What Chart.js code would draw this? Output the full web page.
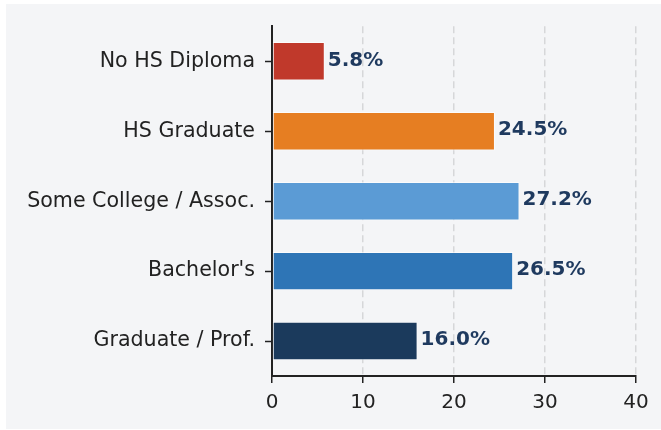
<!DOCTYPE html>
<html>
<head>
<meta charset="utf-8">
<script src="https://cdn.jsdelivr.net/npm/chart.js@4.4.1/dist/chart.umd.min.js"></script>
<style>
  html, body { margin: 0; padding: 0; background: #ffffff; }
  #wrap { position: absolute; left: 6px; top: 4px; width: 655px; height: 425px; background: #f4f5f7; }
  canvas { display: block; }
</style>
</head>
<body>
<div id="wrap"><canvas id="chart" width="655" height="425"></canvas></div>
<script>
const categories = ['No HS Diploma', 'HS Graduate', 'Some College / Assoc.', "Bachelor's", 'Graduate / Prof.'];
const shares = [5.8, 24.5, 27.2, 26.5, 16.0];
const barColors = ['#c0392b', '#e67e22', '#5b9bd5', '#2e75b6', '#1b3a5c'];
const xTicks = [0, 10, 20, 30, 40];

const FONT = "'DejaVu Sans', sans-serif";
const INK = '#222222';

// value labels at the end of each bar
const valueLabels = {
  id: 'valueLabels',
  afterDatasetsDraw(chart) {
    const ctx = chart.ctx;
    const meta = chart.getDatasetMeta(0);
    ctx.save();
    ctx.font = 'bold 20px ' + FONT;
    ctx.fillStyle = '#1f3a5f';
    ctx.textAlign = 'left';
    ctx.textBaseline = 'middle';
    meta.data.forEach((bar, i) => {
      ctx.fillText(shares[i].toFixed(1) + '%', bar.x + 3, bar.y - 1);
    });
    ctx.restore();
  }
};

new Chart(document.getElementById('chart'), {
  type: 'bar',
  data: {
    labels: categories,
    datasets: [{
      data: shares,
      backgroundColor: barColors,
      borderColor: 'rgba(255,255,255,0.6)',
      borderWidth: 1,
      borderSkipped: false,
      barPercentage: 0.55,
      categoryPercentage: 1
    }]
  },
  plugins: [valueLabels],
  options: {
    indexAxis: 'y',
    responsive: false,
    animation: false,
    layout: { padding: { left: 0, top: 17, right: 25, bottom: 0 } },
    plugins: {
      legend: { display: false },
      tooltip: { enabled: false }
    },
    scales: {
      x: {
        min: 0,
        max: 40,
        afterBuildTicks: (scale) => { scale.ticks = xTicks.map(v => ({ value: v })); },
        afterFit: (scale) => { scale.height = 53; },
        border: { display: true, color: INK, width: 2, dash: [7, 4] },
        grid: {
          color: (c) => c.tick && c.tick.value === 0 ? 'rgba(0,0,0,0)' : 'rgba(0,0,0,0.12)',
          lineWidth: 1.5,
          drawTicks: true,
          tickLength: 7,
          tickColor: INK,
          tickWidth: 1.5,
          tickBorderDash: []
        },
        ticks: { color: INK, font: { family: FONT, size: 20 }, padding: 8 }
      },
      y: {
        afterFit: (scale) => { scale.width = 266; },
        border: { display: true, color: INK, width: 2 },
        grid: {
          offset: false,
          drawOnChartArea: false,
          drawTicks: true,
          tickLength: 7,
          tickColor: INK,
          tickWidth: 1.5
        },
        ticks: { color: INK, font: { family: FONT, size: 20.6 }, padding: 10 }
      }
    }
  }
});
</script>
</body>
</html>
